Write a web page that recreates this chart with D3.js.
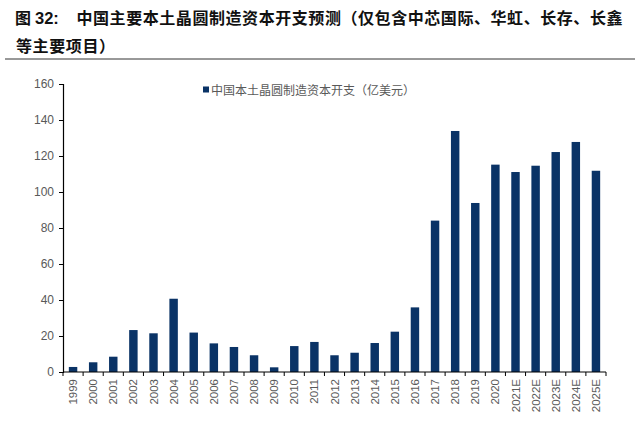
<!DOCTYPE html>
<html><head><meta charset="utf-8">
<script src="https://cdn.jsdelivr.net/npm/d3@7"></script>
<style>
html,body{margin:0;padding:0;background:#fff;}
svg{display:block;}
</style>
</head><body>
<svg id="c" width="640" height="435"></svg>
<script>
const categories = ["1999","2000","2001","2002","2003","2004","2005","2006","2007","2008","2009","2010","2011","2012","2013","2014","2015","2016","2017","2018","2019","2020","2021E","2022E","2023E","2024E","2025E"];
const capex = [2.8,5.4,8.5,23.3,21.5,40.7,21.9,15.9,13.9,9.3,2.6,14.4,16.7,9.3,10.7,16.1,22.4,35.9,84.1,133.9,93.9,115.2,111.1,114.6,122.2,127.8,111.8];
const yTicks = [0,20,40,60,80,100,120,140,160];
const seriesName = "中国本土晶圆制造资本开支（亿美元）";
const titleFig = "图";
const titleNum = "32:";
const titleLine1 = "中国主要本土晶圆制造资本开支预测（仅包含中芯国际、华虹、长存、长鑫";
const titleLine2 = "等主要项目）";

const svg = d3.select("#c");
const cjk = "'Noto Sans CJK SC','Noto Sans',sans-serif";
const latin = "'Liberation Sans',Arial,sans-serif";
const barColor = "#0a3366";

// title
const t1 = svg.append("g").attr("font-weight","bold").attr("fill","#111");
t1.append("text").attr("x",15).attr("y",24).attr("font-family",cjk).attr("font-size",16).text(titleFig);
t1.append("text").attr("x",35).attr("y",24).attr("font-family",latin).attr("font-size",16.5).text(titleNum);
t1.append("text").attr("x",76.5).attr("y",24).attr("font-family",cjk).attr("font-size",16)
  .attr("textLength",546).attr("lengthAdjust","spacing").text(titleLine1);
t1.append("text").attr("x",16).attr("y",52).attr("font-family",cjk).attr("font-size",16)
  .attr("textLength",99).attr("lengthAdjust","spacing").text(titleLine2);
svg.append("line").attr("x1",5).attr("x2",635).attr("y1",59).attr("y2",59)
  .attr("stroke","#333").attr("stroke-width",1);

const x = d3.scaleBand().domain(categories).range([63,606]).paddingInner(0.58).paddingOuter(0.29);
const xb = d3.scaleLinear().domain([0,categories.length]).range([63,606]);
const y = d3.scaleLinear().domain([0,160]).range([372,84]);

// bars
svg.append("g").selectAll("rect").data(capex).join("rect")
  .attr("x",(d,i)=>x(categories[i])).attr("width",x.bandwidth())
  .attr("y",d=>y(d)).attr("height",d=>y(0)-y(d)).attr("fill",barColor);

// y axis
const ya = svg.append("g").attr("transform","translate(63,0)")
  .call(d3.axisLeft(y).tickValues(yTicks).tickSize(4).tickPadding(5));
ya.select(".domain").attr("stroke","#000").attr("stroke-width",1.2);
ya.selectAll(".tick line").attr("stroke","#000");
ya.selectAll("text").attr("font-family",latin).attr("font-size",12).attr("fill","#595959");

// x axis
const xa = svg.append("g").attr("transform","translate(0,372)");
xa.append("line").attr("x1",xb(0)).attr("x2",xb(categories.length)).attr("stroke","#000").attr("stroke-width",1.2);
xa.selectAll("line.t").data(d3.range(categories.length+1)).join("line").attr("class","t")
  .attr("x1",d=>xb(d)).attr("x2",d=>xb(d)).attr("y1",0).attr("y2",4).attr("stroke","#000");
xa.selectAll("text").data(categories).join("text")
  .attr("transform",d=>`translate(${x(d)+x.bandwidth()/2+4},7) rotate(-90)`)
  .attr("text-anchor","end").attr("font-family",latin)
  .attr("font-size",11.5).attr("fill","#595959").text(d=>d);

// legend
const lg = svg.append("g");
lg.append("rect").attr("x",203).attr("y",86.5).attr("width",6).attr("height",6).attr("fill",barColor);
lg.append("text").attr("x",211).attr("y",94.5).attr("font-family",cjk).attr("font-size",12)
  .attr("fill","#595959").text(seriesName);
</script>
</body></html>
